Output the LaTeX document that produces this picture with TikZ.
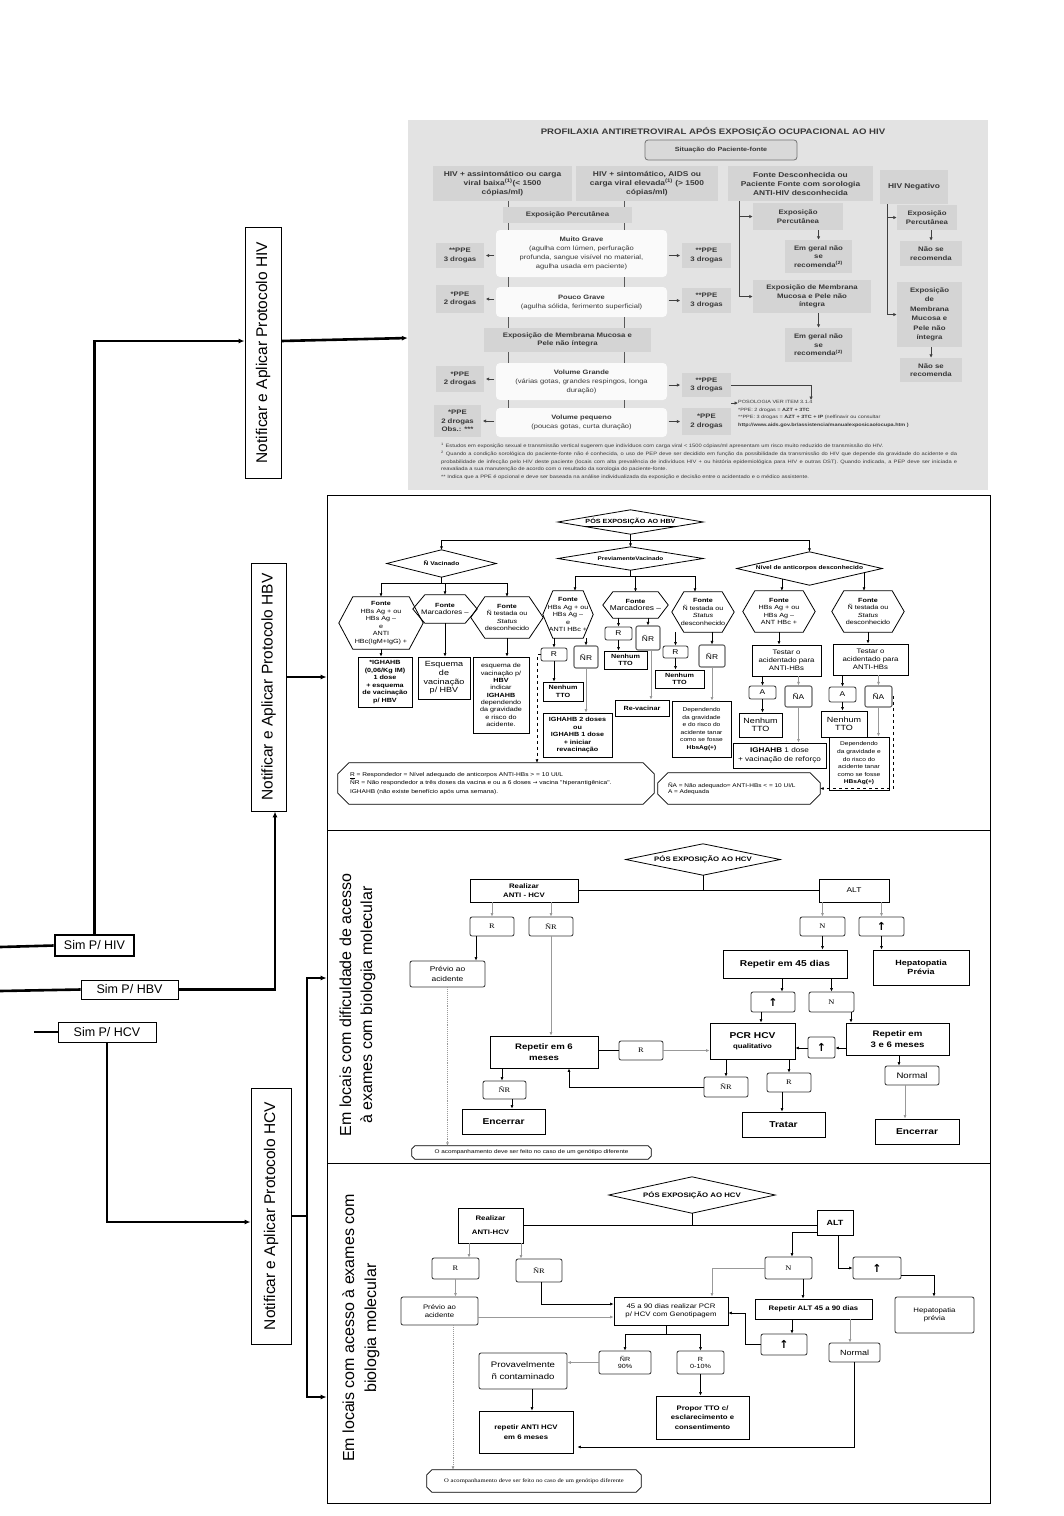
\documentclass[tikz,border=0pt]{standalone}
\usepackage{fontspec}
\setmainfont{Liberation Sans}
\newfontfamily\dg[FakeStretch=1.2]{Liberation Sans}
\newfontfamily\dgs[FakeStretch=1.2]{Liberation Serif}
\newfontfamily\dvs{DejaVu Sans}
\usetikzlibrary{arrows.meta,calc}
\newcommand\fsz[2]{\fontsize{#1}{#2}\selectfont}
% box from pixel corners
\newcommand{\mkbox}[7][]{%
  \pgfmathsetmacro\bxcx{(#3+#5)/2}%
  \pgfmathsetmacro\bxcy{(#4+#6)/2}%
  \pgfmathsetmacro\bxw{#5-#3}%
  \pgfmathsetmacro\bxh{#6-#4}%
  \node[inner sep=0pt, align=center, minimum width=\bxw pt, minimum height=\bxh pt, #1] (#2) at (\bxcx,\bxcy) {#7};}
% hexagon: style, name, x1,y1,x2,y2, d, text
\newcommand{\mkhex}[8][]{%
  \mkbox[#1]{#2}{#3}{#4}{#5}{#6}{#8}%
  \draw[line width=0.8pt] (#2.west) -- ([xshift=#7pt]#2.north west) -- ([xshift=-#7pt]#2.north east) -- (#2.east) -- ([xshift=-#7pt]#2.south east) -- ([xshift=#7pt]#2.south west) -- cycle;}
% diamond
\newcommand{\mkdia}[7][]{%
  \mkbox[#1]{#2}{#3}{#4}{#5}{#6}{#7}%
  \draw[line width=0.8pt] (#2.west) -- (#2.north) -- (#2.east) -- (#2.south) -- cycle;}
% chamfered note: style, name, x1,y1,x2,y2, c, text
\newcommand{\mknote}[8][]{%
  \mkbox[#1]{#2}{#3}{#4}{#5}{#6}{#8}%
  \draw[line width=0.8pt] ([xshift=#7pt]#2.north west) -- ([xshift=-#7pt]#2.north east) -- ([yshift=-#7pt]#2.north east) -- ([yshift=#7pt]#2.south east) -- ([xshift=-#7pt]#2.south east) -- ([xshift=#7pt]#2.south west) -- ([yshift=#7pt]#2.south west) -- ([yshift=-#7pt]#2.north west) -- cycle;}
\begin{document}
\begin{tikzpicture}[x=1pt,y=-1pt,
  arr/.style={-{Latex[length=3.5pt,width=3pt]}},
  bigarr/.style={-{Latex[length=6pt,width=5pt]}},
  tarr/.style={-{Latex[length=3.5pt,width=3.5pt]}, line width=0.9pt, draw=black!75},
  ln/.style={line width=0.6pt},
  gln/.style={line width=0.9pt, draw=black!40},
  thk/.style={line width=2.6pt},
  bxs/.style={draw, line width=0.8pt},
  sbx/.style={draw=black!80, line width=0.8pt, rounded corners=2pt},
  gsbx/.style={draw=black!60, line width=1.1pt, rounded corners=2pt},
  tcell/.style={fill=black!17, text=black!78, font=\dg\bfseries\fsz{6.5}{8.5}},
  thead/.style={fill=black!17, text=black!78, font=\dg\bfseries\fsz{7}{9}},
  twhite/.style={fill=black!2, rounded corners=4pt, text=black!78, font=\dg\fsz{6.3}{9}},
  hb/.style={font=\dg\fsz{6}{7.5}},
  hbb/.style={font=\dg\bfseries\fsz{6}{7.5}},
  hbr/.style={font=\dg\fsz{7}{8}},
  cbold/.style={font=\dg\bfseries\fsz{8.5}{10}},
  cser/.style={font=\dgs\fsz{7}{8}},
  upf/.style={font=\dvs\bfseries\fsz{11}{11}},
]
\useasboundingbox (0,0) rectangle (1064,1516);
\fill[white] (0,0) rectangle (1064,1516);

% ================= panels =================
\mkbox[fill=black!11]{tbl}{408}{120}{988}{490}{}
\mkbox[draw, line width=0.8pt]{phbv}{327}{495}{990}{830}{}
\mkbox[draw, line width=0.8pt]{phcv1}{327}{830}{990}{1163}{}
\mkbox[draw, line width=0.8pt]{phcv2}{327}{1163}{990}{1503}{}

% ================= left side =================
\coordinate (lhiv) at (0,947);
\coordinate (lhbv) at (0,991);
\coordinate (lhcv) at (34,1032);
\mkbox[draw, line width=2.6pt, font=\fsz{12.5}{14}]{simhiv}{55}{935}{134}{956}{Sim P/ HIV}
\mkbox[draw, line width=0.8pt, font=\fsz{12.5}{14}]{simhbv}{81}{980}{178}{999}{Sim P/ HBV}
\mkbox[draw, line width=0.8pt, font=\fsz{12.5}{14}]{simhcv}{58}{1022}{156}{1042}{Sim P/ HCV}
\node[draw, line width=0.9pt, rotate=90, minimum width=251pt, minimum height=36pt, inner sep=0pt, font=\fsz{15.5}{18}] (nhiv) at (263,352.5) {Notificar e Aplicar Protocolo HIV};
\node[draw, line width=0.9pt, rotate=90, minimum width=248pt, minimum height=35pt, inner sep=0pt, font=\fsz{15.5}{18}] (nhbv) at (268.5,687) {Notificar e Aplicar Protocolo HBV};
\node[draw, line width=0.9pt, rotate=90, minimum width=256pt, minimum height=40pt, inner sep=0pt, font=\fsz{15.5}{18}] (nhcv) at (271,1216) {Notificar e Aplicar Protocolo HCV};

\draw[thk] (lhiv) -- (simhiv.west);
\draw[thk, bigarr] (simhiv.north) |- (nhiv.north |- 0,341);
\draw[thk, bigarr] (nhiv.south |- 0,341) -- (tbl.west |- 0,338);
\draw[thk] (lhbv) -- (simhbv.west);
\draw[thk, bigarr] (simhbv.east) -| (275,0 |- nhbv.west);
\draw[thk, bigarr] (nhbv.south |- 0,677) -- (phbv.west |- 0,677);
\draw[line width=1.6pt] (lhcv) -- (simhcv.west);
\draw[thk, bigarr] (simhcv.south) |- (nhcv.north |- 0,1222);
\coordinate (brk) at (307,1216);
\draw[thk] (nhcv.south) -- (brk);
\draw[thk, bigarr] (brk) |- (phcv1.west |- 0,978);
\draw[thk, bigarr] (brk) |- (phcv2.west |- 0,1397);

% ================= HIV table =================
\node[text=black!78, font=\dg\bfseries\fsz{8}{9}] (ttl) at (713,132) {PROFILAXIA ANTIRETROVIRAL APÓS EXPOSIÇÃO OCUPACIONAL AO HIV};
\mkbox[draw=black!55, line width=0.8pt, rounded corners=3pt, fill=black!15, text=black!78, font=\dg\bfseries\fsz{6}{7}]{sit}{645}{140}{797}{160}{Situação do Paciente-fonte}
\mkbox[thead]{h1}{433}{166}{572}{201}{HIV + assintomático ou carga\\viral baixa\textsuperscript{(1)}(< 1500\\cópias/ml)}
\mkbox[thead]{h2}{576}{166}{718}{201}{HIV + sintomático, AIDS ou\\carga viral elevada\textsuperscript{(1)} (> 1500\\cópias/ml)}
\mkbox[thead]{h3}{728}{166}{873}{201}{Fonte Desconhecida ou\\Paciente Fonte com sorologia\\ANTI-HIV desconhecida}
\mkbox[thead]{h4}{880}{170}{948}{204}{HIV Negativo}
\mkbox[tcell]{ep}{503}{207}{632}{223}{Exposição Percutânea}
\mkbox[twhite]{mg}{496}{230}{667}{277}{\textbf{Muito Grave}\\(agulha com lúmen, perfuração\\profunda, sangue visível no material,\\agulha usada em paciente)}
\mkbox[twhite]{pg}{496}{287}{667}{317}{\textbf{Pouco Grave}\\(agulha sólida, ferimento superficial)}
\mkbox[tcell]{mm}{484}{328}{651}{352}{Exposição de Membrana Mucosa e\\Pele não íntegra}
\mkbox[twhite]{vg}{496}{363}{667}{400}{\textbf{Volume Grande}\\(várias gotas, grandes respingos, longa\\duração)}
\mkbox[twhite]{vp}{496}{408}{667}{437}{\textbf{Volume pequeno}\\(poucas gotas, curta duração)}
\mkbox[tcell]{l1}{436}{243}{484}{268}{**PPE\\3 drogas}
\mkbox[tcell]{r1}{682}{243}{731}{268}{**PPE\\3 drogas}
\mkbox[tcell]{l2}{436}{285}{484}{313}{*PPE\\2 drogas}
\mkbox[tcell]{r2}{682}{288}{731}{313}{**PPE\\3 drogas}
\mkbox[tcell]{l3}{436}{366}{484}{392}{*PPE\\2 drogas}
\mkbox[tcell]{r3}{682}{373}{731}{397}{**PPE\\3 drogas}
\mkbox[tcell]{l4}{434}{405}{481}{437}{*PPE\\2 drogas\\Obs.: ***}
\mkbox[tcell]{r4}{682}{408}{731}{435}{*PPE\\2 drogas}
\foreach \xx in {508,624} {
  \draw[line width=0.9pt, black!65] (\xx,0 |- h1.south) -- (\xx,0 |- ep.north);
  \draw[line width=0.9pt, black!65] (\xx,0 |- ep.south) -- (\xx,0 |- mg.north);
  \draw[line width=0.9pt, black!65] (\xx,0 |- mg.south) -- (\xx,0 |- pg.north);
  \draw[line width=0.9pt, black!65] (\xx,0 |- pg.south) -- (\xx,0 |- mm.north);
  \draw[line width=0.9pt, black!65] (\xx,0 |- mm.south) -- (\xx,0 |- vg.north);
  \draw[line width=0.9pt, black!65] (\xx,0 |- vg.south) -- (\xx,0 |- vp.north);
}
\foreach \s/\l/\r in {mg/l1/r1, pg/l2/r2, vg/l3/r3, vp/l4/r4} {
  \draw[tarr, shorten <=1.5pt, shorten >=1.5pt] (\s.west |- \l.east) -- (\l.east);
  \draw[tarr, shorten <=1.5pt, shorten >=1.5pt] (\s.east |- \r.west) -- (\r.west);
}
\mkbox[tcell]{e3}{753}{203}{843}{230}{Exposição\\Percutânea}
\mkbox[tcell]{g1}{785}{240}{852}{273}{Em geral não\\se\\recomenda\textsuperscript{(2)}}
\mkbox[tcell]{m3}{753}{280}{871}{313}{Exposição de Membrana\\Mucosa e Pele não\\íntegra}
\mkbox[tcell]{g2}{785}{328}{852}{362}{Em geral não\\se\\recomenda\textsuperscript{(2)}}
\draw[tarr] (739,0 |- h3.south) |- (m3.west);
\draw[tarr] (739,0 |- e3.west) -- (e3.west);
\draw[tarr] (g1.north |- e3.south) -- (g1.north);
\draw[tarr] (g2.north |- m3.south) -- (g2.north);
\mkbox[tcell]{e4}{897}{205}{957}{230}{Exposição\\Percutânea}
\mkbox[tcell]{n4a}{900}{241}{962}{266}{Não se\\recomenda}
\mkbox[tcell, font=\dg\bfseries\fsz{6.5}{9.5}]{m4}{897}{282}{962}{347}{Exposição\\de\\Membrana\\Mucosa e\\Pele não\\íntegra}
\mkbox[tcell]{n4b}{900}{358}{962}{382}{Não se\\recomenda}
\draw[tarr] (887,0 |- h4.south) |- (m4.west);
\draw[tarr] (887,0 |- e4.west) -- (e4.west);
\draw[tarr] (n4a.north |- e4.south) -- (n4a.north);
\draw[tarr] (n4b.north |- m4.south) -- (n4b.north);
\node[anchor=north west, align=left, inner sep=0pt, text=black!78, font=\dg\fsz{4.6}{7.6}] (pos) at (738,400) {POSOLOGIA VER ITEM 3.1.4\\*PPE: 2 drogas = \textbf{AZT + 3TC}\\**PPE: 3 drogas = \textbf{AZT + 3TC + IP} (nelfinavir ou consultar\\\textbf{http://www.aids.gov.br/assistencia/manualexposicao/ocupa.htm )}};
\draw[tarr, line width=0.6pt] (r3.east) -| (811,0 |- pos.north);
\draw[tarr, line width=0.6pt] (r4.east |- 0,403) -- (pos.west |- 0,403);
\node[anchor=north west, text width=516pt, align=justify, inner sep=0pt, text=black!78, font=\dg\fsz{4.8}{7.8}] (fn) at (441,443) {\textsuperscript{1} Estudos em exposição sexual e transmissão vertical sugerem que indivíduos com carga viral < 1500 cópias/ml apresentam um risco muito reduzido de transmissão do HIV.\\
\textsuperscript{2} Quando a condição sorológica do paciente-fonte não é conhecida, o uso de PEP deve ser decidido em função da possibilidade da transmissão do HIV que depende da gravidade do acidente e da probabilidade de infecção pelo HIV deste paciente (locais com alta prevalência de indivíduos HIV + ou história epidemiológica para HIV e outras DST). Quando indicada, a PEP deve ser iniciada e reavaliada a sua manutenção de acordo com o resultado da sorologia do paciente-fonte.\\
*** Indica que a PPE é opcional e deve ser baseada na análise individualizada da exposição e decisão entre o acidentado e o médico assistente.};

% ================= HBV =================
\mkdia[font=\dg\bfseries\fsz{6}{7}]{dh}{558}{510}{703}{534}{\underline{PÓS EXPOSIÇÃO AO HBV}}
\mkdia[font=\dg\bfseries\fsz{5.5}{7}]{dnv}{387}{550}{496}{577}{Ñ Vacinado}
\mkdia[font=\dg\bfseries\fsz{5.3}{7}]{dpv}{558}{547}{703}{570}{PreviamenteVacinado}
\mkdia[font=\dg\bfseries\fsz{5.5}{7}]{dnk}{737}{552}{882}{585}{Nível de anticorpos desconhecido}

\mkhex[hb]{h1}{339}{597}{423}{649}{14}{\textbf{Fonte}\\HBs Ag + ou\\HBs Ag –\\e\\ANTI\\HBc(IgM+IgG) +}
\mkhex[hb]{h2}{413}{595}{477}{623}{12}{\textbf{Fonte}\\{\fsz{6.5}{8}Marcadores –}}
\mkhex[hb]{h3}{471}{597}{543}{638}{14}{\textbf{Fonte}\\Ñ testada ou\\\textit{Status}\\desconhecido}
\mkhex[hb]{h4}{543}{591}{593}{638}{10}{\textbf{Fonte}\\HBs Ag + ou\\HBs Ag –\\e\\ANTI HBc +}
\mkhex[hb]{h5}{603}{592}{668}{618}{10}{\textbf{Fonte}\\{\fsz{7}{8}Marcadores –}}
\mkhex[hb]{h6}{672}{592}{734}{632}{12}{\textbf{Fonte}\\Ñ testada ou\\\textit{Status}\\desconhecido}
\mkhex[hb]{h7}{743}{591}{815}{632}{12}{\textbf{Fonte}\\HBs Ag + ou\\HBs Ag –\\ANT HBc +}
\mkhex[hb]{h8}{832}{591}{904}{632}{12}{\textbf{Fonte}\\Ñ testada ou\\\textit{Status}\\desconhecido}

\mkbox[bxs, hbb]{b1}{358}{657}{412}{707}{*IGHAHB\\(0,06/Kg IM)\\1 dose\\+ esquema\\de vacinação\\p/ HBV}
\mkbox[bxs, font=\dg\fsz{7.5}{8.6}]{b2}{418}{657}{470}{699}{Esquema\\de\\vacinação\\p/ HBV}
\mkbox[bxs, font=\dg\fsz{6}{7.3}]{b3}{473}{657}{529}{733}{esquema de\\vacinação p/\\\textbf{HBV}\\indicar\\\textbf{IGHAHB}\\dependendo\\da gravidade\\e risco do\\acidente.}

\mkbox[sbx, hbr]{rr1}{541}{648}{567}{661}{R}
\mkbox[gsbx, hbr]{rn1}{574}{646}{598}{668}{ÑR}
\mkbox[bxs, hbb]{nt1}{543}{682}{583}{701}{Nenhum\\TTO}
\mkbox[bxs, hbb]{ig2}{543}{713}{612}{757}{IGHAHB 2 doses\\ou\\IGHAHB 1 dose\\+ iniciar\\revacinação}
\mkbox[sbx, hbr]{rr2}{605}{627}{632}{640}{R}
\mkbox[gsbx, hbr]{rn2}{636}{626}{660}{650}{ÑR}
\mkbox[bxs, hbb]{nt2}{604}{651}{647}{669}{Nenhum\\TTO}
\mkbox[bxs, hbb]{rev}{615}{700}{669}{716}{Re-vacinar}
\mkbox[sbx, hbr]{rr3}{663}{646}{688}{658}{R}
\mkbox[gsbx, hbr]{rn3}{699}{645}{725}{667}{ÑR}
\mkbox[bxs, hbb]{nt3}{655}{670}{704}{688}{Nenhum\\TTO}
\mkbox[bxs, font=\dg\fsz{5.5}{7.6}]{dep1}{672}{701}{731}{757}{Dependendo\\da gravidade\\e do risco do\\acidente tanar\\como se fosse\\\textbf{HbsAg(+)}}

\mkbox[bxs, font=\dg\fsz{6.5}{7.8}]{t1}{752}{645}{821}{676}{Testar o\\acidentado para\\ANTI-HBs}
\mkbox[bxs, font=\dg\fsz{6.5}{7.8}]{t2}{833}{644}{908}{675}{Testar o\\acidentado para\\ANTI-HBs}
\mkbox[sbx, hbr]{a1}{749}{686}{776}{699}{A}
\mkbox[gsbx, hbr]{na1}{785}{686}{812}{707}{ÑA}
\mkbox[bxs, font=\dg\fsz{7.5}{8.5}]{nt4}{739}{713}{782}{737}{Nenhum\\TTO}
\mkbox[bxs, font=\dg\fsz{6.8}{8.8}]{ig1}{733}{743}{826}{768}{\textbf{IGHAHB} 1 dose\\+ vacinação de reforço}
\mkbox[sbx, hbr]{a2}{829}{687}{856}{702}{A}
\mkbox[gsbx, hbr]{na2}{865}{686}{892}{707}{ÑA}
\mkbox[bxs, font=\dg\fsz{7.5}{8.5}]{nt5}{821}{711}{867}{737}{Nenhum\\TTO}
\mkbox[bxs, font=\dg\fsz{5.5}{7.6}]{dep2}{829}{737}{889}{790}{Dependendo\\da gravidade e\\do risco do\\acidente tanar\\como se fosse\\\textbf{HBsAg(+)}}

\mknote[font=\dg\fsz{5.5}{8.6}, align=left, text width=292pt]{note1}{338}{763}{654}{804}{11}{\underline{R} = Respondedor = Nível adequado de anticorpos ANTI-HBs > = 10 UI/L\\ÑR = Não respondedor a três doses da vacina e ou a 6 doses {\dvs →} vacina "hiperantigênica".\\*IGHAHB (não existe benefício após uma semana).}
\mknote[font=\dg\fsz{5.4}{6.5}, align=left, text width=142pt]{note2}{658}{773}{820}{804}{10}{ÑA = Não adequado= ANTI-HBs < = 10 UI/L\\A = Adequada}

\coordinate (jh) at (dh.south |- 0,540);
\draw[ln] (dh.south) -- (jh);
\draw[ln,arr] (jh) -| (dnv.north);
\draw[ln,arr] (jh) -- (dpv.north);
\draw[ln,arr] (jh) -| (dnk.north);
\coordinate (jv) at (dnv.south |- 0,583);
\draw[ln] (dnv.south) -- (jv);
\draw[ln,arr] (jv) -| (h1.north);
\draw[ln,arr] (jv) -| (h3.north);
\draw[ln,arr] (h2.north |- jv) -- (h2.north);
\coordinate (jp) at (dpv.south |- 0,576);
\draw[ln] (dpv.south) -- (jp);
\draw[ln,arr] (jp) -| (575,0 |- h4.north);
\draw[ln,arr] (jp) -| (695,0 |- h6.north);
\draw[ln,arr] (h5.north |- jp) -- (h5.north);
\draw[ln,arr] (h1.south) -- (h1.south |- b1.north);
\draw[ln,arr] (h2.south) -- (h2.south |- b2.north);
\draw[ln,arr] (h3.south) -- (h3.south |- b3.north);
\draw[ln,arr] (rr1.north |- h4.south) -- (rr1.north);
\draw[ln,arr] (rn1.north |- h4.south) -- (rn1.north);
\draw[ln,arr] (rr1.south) -- (rr1.south |- nt1.north);
\draw[gln,arr] (rn1.south) -- (rn1.south |- ig2.north);
\draw[ln,dashed,arr] (rr1.west) -| (537,0 |- note1.north);
\draw[ln,arr] (rr2.north |- h5.south) -- (rr2.north);
\draw[ln,arr] (rn2.north |- h5.south) -- (rn2.north);
\draw[ln,arr] (rr2.south) -- (rr2.south |- nt2.north);
\draw[gln,arr] (651,0 |- rn2.south) -- (651,0 |- rev.north);
\draw[ln,arr] (rr3.north |- h6.south) -- (rr3.north);
\draw[ln,arr] (rn3.north |- h6.south) -- (rn3.north);
\draw[ln,arr] (rr3.south) -- (rr3.south |- nt3.north);
\draw[gln,arr] (rn3.south) -- (rn3.south |- dep1.north);
\coordinate (k1) at ($(dnk.south)!0.38!(dnk.west)$);
\coordinate (k2) at ($(dnk.south)!0.75!(dnk.east)$);
\draw[ln,arr] (k1) -- (k1 |- h7.north);
\draw[ln,arr] (k2) -- (k2 |- h8.north);
\draw[ln,arr] (h7.south) -- (h7.south |- t1.north);
\draw[ln,arr] (h8.south) -- (h8.south |- t2.north);
\draw[ln,arr] (a1.north |- t1.south) -- (a1.north);
\draw[gln,arr] (na1.north |- t1.south) -- (na1.north);
\draw[ln,arr] (a1.south) -- (a1.south |- nt4.north);
\draw[gln,arr] (na1.south) -- (na1.south |- ig1.north);
\draw[ln,arr] (a2.north |- t2.south) -- (a2.north);
\draw[gln,arr] (na2.north |- t2.south) -- (na2.north);
\draw[ln,arr] (a2.south) -- (a2.south |- nt5.north);
\draw[gln,arr] (na2.south) -- (na2.south |- dep2.north);
\draw[ln,dashed,arr] (na2.east) -| ($(note2.east)+(73,0)$) -- (note2.east);

% ================= HCV 1 =================
\node[rotate=90, align=center, font=\fsz{16}{21}] (lab1) at (357.5,1005) {Em locais com dificuldade de acesso\\à exames com biologia molecular};
\mkdia[font=\dg\bfseries\fsz{6.5}{7}]{dc1}{626}{844}{780}{875}{PÓS EXPOSIÇÃO AO HCV}
\mkbox[bxs, font=\dg\bfseries\fsz{6.5}{9}]{rea1}{470}{879}{578}{902}{Realizar\\ANTI - HCV}
\mkbox[bxs, font=\dg\fsz{7}{8}]{alt1}{819}{879}{889}{902}{ALT}
\mkbox[sbx, cser]{cr1}{470}{917}{514}{936}{R}
\mkbox[sbx, cser]{cnr1}{529}{917}{573}{936}{ÑR}
\mkbox[sbx, font=\dg\fsz{7}{10}]{pv1}{410}{961}{485}{987}{Prévio ao\\acidente}
\mkbox[sbx, cser]{cn1}{800}{917}{845}{936}{N}
\mkbox[sbx, upf]{cu1}{859}{917}{904}{936}{↑}
\mkbox[bxs, font=\dg\bfseries\fsz{7.5}{9}]{hep1}{873}{950}{969}{985}{Hepatopatia\\Prévia}
\mkbox[bxs, cbold]{rep45}{723}{950}{847}{978}{Repetir em 45 dias}
\mkbox[sbx, upf]{cu2}{751}{992}{795}{1012}{↑}
\mkbox[sbx, cser]{cn2}{809}{992}{854}{1012}{N}
\mkbox[bxs, cbold]{pcr1}{710}{1023}{795}{1059}{PCR HCV\\{\fsz{6.5}{8}qualitativo}}
\mkbox[bxs, font=\dg\bfseries\fsz{8}{11}]{rep36}{846}{1023}{949}{1055}{Repetir em\\3 e 6 meses}
\mkbox[sbx, upf]{cu3}{808}{1037}{835}{1058}{↑}
\mkbox[sbx, font=\dg\fsz{8}{9}]{norm1}{885}{1066}{939}{1085}{Normal}
\mkbox[bxs, cbold]{enc2}{875}{1119}{959}{1144}{Encerrar}
\mkbox[bxs, font=\dg\bfseries\fsz{8}{11}]{rep6}{490}{1036}{598}{1068}{Repetir em 6\\meses}
\mkbox[sbx, cser]{crr}{619}{1041}{663}{1060}{R}
\mkbox[sbx, cser]{cnr2}{704}{1077}{748}{1097}{ÑR}
\mkbox[sbx, cser]{cr2}{767}{1073}{811}{1092}{R}
\mkbox[bxs, cbold]{trat}{742}{1112}{825}{1137}{Tratar}
\mkbox[sbx, cser]{cnr3}{483}{1081}{526}{1099}{ÑR}
\mkbox[bxs, cbold]{enc1}{462}{1109}{545}{1134}{Encerrar}
\mknote[font=\dg\fsz{5.3}{6}]{ann1}{412}{1146}{651}{1159}{3}{O acompanhamento deve ser feito no caso de um genótipo diferente}

\draw[ln] (dc1.south) -- (dc1.south |- rea1.east);
\draw[ln] (rea1.east) -- (alt1.west);
\draw[gln,arr] (cr1.north |- rea1.south) -- (cr1.north);
\draw[gln,arr] (cnr1.north |- rea1.south) -- (cnr1.north);
\draw[ln,arr] (476,0 |- cr1.south) -- (476,0 |- pv1.north);
\draw[gln,arr] (cn1.north |- alt1.south) -- (cn1.north);
\draw[gln,arr] (cu1.north |- alt1.south) -- (cu1.north);
\draw[line width=1pt,arr] (cu1.south) -- (cu1.south |- hep1.north);
\draw[ln,arr] (cn1.south) -- (cn1.south |- rep45.north);
\draw[ln,arr] (782,0 |- rep45.south) -- (782,0 |- cu2.north);
\draw[ln,arr] (cn2.north |- rep45.south) -- (cn2.north);
\draw[ln,arr] (761,0 |- cu2.south) -- (761,0 |- pcr1.north);
\draw[ln,arr] (851,0 |- cn2.south) -- (851,0 |- rep36.north);
\draw[ln,arr] (rep36.west |- 0,1048) -- (cu3.east |- 0,1048);
\draw[ln,arr] (cu3.west |- 0,1048) -- (pcr1.east |- 0,1048);
\draw[ln,arr] (899,0 |- rep36.south) -- (899,0 |- norm1.north);
\draw[gln,arr] (905,0 |- norm1.south) -- (905,0 |- enc2.north);
\draw[gln,arr] (cnr1.south) -- (cnr1.south |- rep6.north);
\draw[line width=1pt] (rep6.east |- crr.west) -- (crr.west);
\draw[gln,arr] (crr.east) -- (pcr1.west |- crr.east);
\draw[ln,arr] (cnr2.north |- pcr1.south) -- (cnr2.north);
\draw[ln,arr] (cr2.north |- pcr1.south) -- (cr2.north);
\draw[line width=1pt,arr] (cnr2.west) -| (569,0 |- rep6.south);
\draw[ln,arr] (782,0 |- cr2.south) -- (782,0 |- trat.north);
\draw[ln,arr] (502,0 |- rep6.south) -- (502,0 |- cnr3.north);
\draw[ln,arr] (512,0 |- cnr3.south) -- (512,0 |- enc1.north);
\draw[gln,densely dotted,arr] (pv1.south) -- (pv1.south |- ann1.north);

% ================= HCV 2 =================
\node[rotate=90, align=center, font=\fsz{16}{22}] (lab2) at (361,1328) {Em locais com acesso à exames com\\biologia molecular};
\mkdia[font=\dg\bfseries\fsz{6.5}{7}]{dc2}{609}{1177}{775}{1213}{PÓS EXPOSIÇÃO AO HCV}
\mkbox[bxs, font=\dg\bfseries\fsz{6.5}{14}]{rea2}{458}{1208}{523}{1243}{Realizar\\ANTI-HCV}
\mkbox[bxs, font=\dg\bfseries\fsz{7.5}{9}]{alt2}{817}{1210}{853}{1235}{ALT}
\mkbox[sbx, cser]{dr1}{432}{1258}{479}{1279}{R}
\mkbox[sbx, cser]{dnr1}{516}{1259}{562}{1282}{ÑR}
\mkbox[sbx, font=\dg\fsz{6.5}{8.5}]{pv2}{401}{1297}{478}{1325}{Prévio ao\\acidente}
\mkbox[bxs, font=\dg\fsz{6.5}{8.5}]{pcr2}{614}{1297}{728}{1325}{45 a 90 dias realizar PCR\\p/ HCV com Genotipagem}
\mkbox[sbx, cser]{dn1}{765}{1257}{812}{1279}{N}
\mkbox[sbx, upf]{du1}{853}{1257}{901}{1279}{↑}
\mkbox[sbx, font=\dg\fsz{6.5}{8.5}]{hep2}{895}{1297}{974}{1333}{Hepatopatia\\prévia}
\mkbox[bxs, font=\dg\bfseries\fsz{6.5}{8}]{rep2}{755}{1299}{872}{1319}{Repetir ALT 45 a 90 dias}
\mkbox[sbx, upf]{du2}{761}{1334}{807}{1355}{↑}
\mkbox[sbx, font=\dg\fsz{7.5}{9}]{norm2}{829}{1343}{880}{1362}{Normal}
\mkbox[sbx, font=\dg\fsz{6}{7}]{dnr2}{599}{1351}{651}{1374}{ÑR\\90\%}
\mkbox[sbx, font=\dg\fsz{6}{7}]{dr2}{677}{1351}{724}{1374}{R\\0-10\%}
\mkbox[sbx, font=\dg\fsz{8}{12}]{prov}{479}{1353}{567}{1389}{Provavelmente\\ñ contaminado}
\mkbox[bxs, font=\dg\bfseries\fsz{6.5}{9.5}]{prop}{656}{1396}{749}{1439}{Propor TTO c/\\esclarecimento e\\consentimento}
\mkbox[bxs, font=\dg\bfseries\fsz{6.5}{10}]{rep6b}{479}{1411}{573}{1453}{repetir ANTI HCV\\em 6 meses}
\mknote[font=\dgs\fsz{5.5}{6}]{ann2}{427}{1470}{641}{1492}{5}{O acompanhamento deve ser feito no caso de um genótipo diferente}

\draw[ln] (dc2.south) -- (dc2.south |- 0,1225);
\draw[ln] (rea2.east |- 0,1225) -- (alt2.west |- 0,1225);
\draw[gln,arr] (469,0 |- rea2.south) -- (469,0 |- dr1.north);
\draw[gln,arr] (521,0 |- rea2.south) -- (521,0 |- dnr1.north);
\draw[gln,arr] (dr1.south) -- (dr1.south |- pv2.north);
\draw[gln,arr] (pv2.east |- 0,1317) -- (pcr2.west |- 0,1317);
\draw[ln,arr] (541,0 |- dnr1.south) |- (pcr2.west |- 0,1304);
\draw[ln,arr] (alt2.west |- 0,1232) -| (792,0 |- dn1.north);
\draw[ln,arr] (838,0 |- alt2.south) |- (du1.west);
\draw[ln,arr] (du1.east |- 0,1275) -| (934,0 |- hep2.north);
\draw[gln,arr] (dn1.west) -| (712,0 |- pcr2.north);
\draw[ln,arr] (803,0 |- dn1.south) -- (803,0 |- rep2.north);
\draw[ln,arr] (792,0 |- rep2.south) -- (792,0 |- du2.north);
\draw[gln,arr] (850,0 |- rep2.south) -- (850,0 |- norm2.north);
\draw[ln,arr] (du2.west) -| (745,1313) -- (pcr2.east |- 0,1313);
\coordinate (sp2) at (666,1334);
\draw[ln] (666,0 |- pcr2.south) -- (sp2);
\draw[ln,arr] (sp2) -| (dnr2.north);
\draw[ln,arr] (sp2) -| (dr2.north);
\draw[gln,arr] (dnr2.west) -- (prov.east |- dnr2.west);
\draw[ln,arr] (dr2.south) -- (dr2.south |- prop.north);
\draw[ln,arr] (532,0 |- prov.south) -- (532,0 |- rep6b.north);
\draw[ln,arr,shorten >=4pt] (854,0 |- norm2.south) |- (rep6b.east |- 0,1447);
\draw[gln,densely dotted,arr] (453,0 |- pv2.south) -- (453,0 |- ann2.north);
\end{tikzpicture}
\end{document}
